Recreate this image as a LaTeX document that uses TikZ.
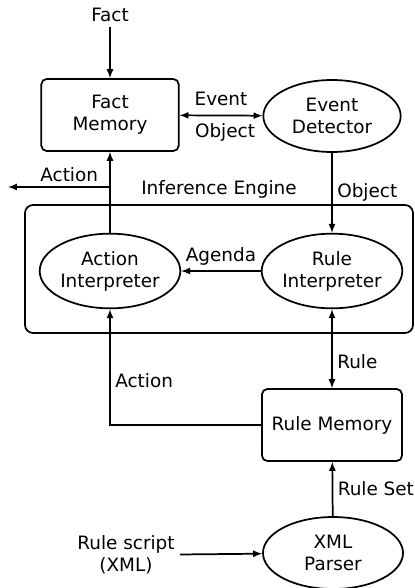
\documentclass[tikz,border=0pt]{standalone}
\usepackage{fontspec}
\setmainfont{DejaVu Sans}
\usetikzlibrary{arrows,calc,shapes.geometric,positioning}

\begin{document}
\begin{tikzpicture}[x=0.75pt,y=-0.75pt,>=latex,line width=1.3pt,
  font=\fontsize{13.8}{16.5}\selectfont,
  box/.style={draw,rounded corners=4pt,minimum width=103pt,minimum height=54pt,align=center},
  oval/.style={draw,ellipse,minimum width=103pt,minimum height=56pt,inner sep=0pt,align=center}]
\useasboundingbox (0,0) rectangle (414,588);
% engine frame
\node[draw,rounded corners=6pt,minimum width=291pt,minimum height=96pt,label={[label distance=0pt]above:Inference Engine}] (engine) at (219,269) {};
% nodes
\node[box] (factmem) at (110,115) {Fact\\Memory};
\node[oval,minimum height=54pt] (evdet) at (332,116) {Event\\Detector};
\node[oval] (actint) at (110,271) {Action\\Interpreter};
\node[oval] (ruleint) at (332,271) {Rule\\Interpreter};
\node[box,minimum width=105pt] (rulemem) at (332,425) {Rule Memory};
\node[oval,minimum width=105pt,minimum height=54pt] (xml) at (333,553) {XML\\Parser};
\node (fact) at (110,15) {Fact};
\node[align=center] (script) at (126,555) {Rule script\\(XML)};
\coordinate (split) at (110,187);
\coordinate (out) at (8,187);
% connectors
\draw[->] (fact) -- (factmem);
\draw[<->] (factmem) -- node[above=3pt]{Event} node[below=2pt,xshift=3pt]{Object} (evdet);
\draw[->] (evdet) -- node[right]{Object} (ruleint);
\draw[->] (ruleint) -- node[above]{Agenda} (actint);
\draw[->] (actint) -- (factmem);
\draw[->] (split) -- node[above,pos=0.4]{Action} (out);
\draw[<->] (ruleint) -- node[right,pos=0.66]{Rule} (rulemem);
\draw[->] (rulemem.west) -| node[right,pos=0.69]{Action} (actint);
\draw[->] (xml) -- node[right]{Rule Set} (rulemem);
\draw[->] (script) -- (xml);
\end{tikzpicture}
\end{document}
